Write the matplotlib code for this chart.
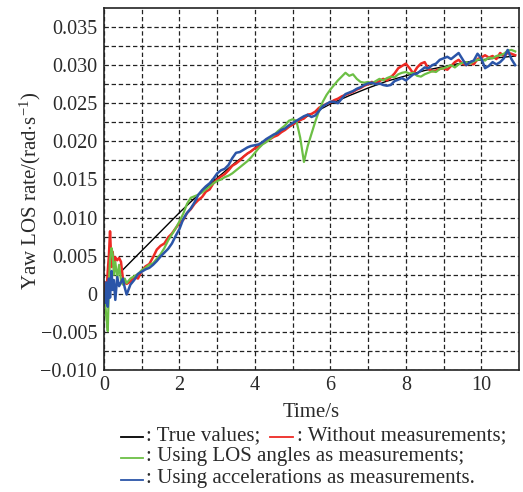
import matplotlib
matplotlib.use('Agg')
import matplotlib.pyplot as plt
from matplotlib.lines import Line2D
import numpy as np

plt.rcParams['font.family'] = ['Liberation Serif', 'DejaVu Serif']
plt.rcParams['mathtext.fontset'] = 'custom'
plt.rcParams['mathtext.rm'] = 'Liberation Serif'
plt.rcParams['mathtext.it'] = 'Liberation Serif:italic'

# ---------------- data (values in units of 1e-3 rad/s) ----------------
time = [0.00, 0.03, 0.06, 0.10, 0.13, 0.16, 0.20, 0.23, 0.26, 0.30, 0.35, 0.40, 0.45, 0.50, 0.55, 0.60,
        0.7, 0.8, 0.9, 1.0, 1.1, 1.2, 1.3, 1.4, 1.5, 1.6, 1.7, 1.8, 1.9,
        2.0, 2.1, 2.2, 2.3, 2.4, 2.5, 2.6, 2.7, 2.8, 2.9,
        3.0, 3.1, 3.2, 3.3, 3.4, 3.5, 3.6, 3.7, 3.8, 3.9,
        4.0, 4.1, 4.2, 4.3, 4.4, 4.5, 4.6, 4.7, 4.8, 4.9,
        5.0, 5.1, 5.2, 5.3, 5.4, 5.5, 5.6, 5.7, 5.8, 5.9,
        6.0, 6.1, 6.2, 6.3, 6.4, 6.5, 6.6, 6.7, 6.8, 6.9,
        7.0, 7.1, 7.2, 7.3, 7.4, 7.5, 7.6, 7.7, 7.8, 7.9,
        8.0, 8.1, 8.2, 8.3, 8.4, 8.5, 8.6, 8.7, 8.8, 8.9,
        9.0, 9.1, 9.2, 9.3, 9.4, 9.5, 9.6, 9.7, 9.8, 9.9,
        10.0, 10.1, 10.2, 10.3, 10.4, 10.5, 10.6, 10.7, 10.8, 10.9]

true_time = [0.45, 1.0, 1.5, 2.0, 2.5, 3.0, 3.5, 4.0, 4.5, 5.0, 5.5, 6.0, 6.5,
             7.0, 7.5, 8.0, 8.5, 9.0, 9.5, 10.0, 10.5, 10.9]
true_vals = [2.9, 5.65, 8.15, 10.65, 13.0, 15.2, 17.3, 19.1, 20.7, 22.2, 23.6, 24.9, 26.0,
             27.0, 27.9, 28.6, 29.3, 29.8, 30.3, 30.7, 31.0, 31.2]

without_meas = [0.0, 1.5, -0.5, 3.0, 5.0, 8.2, 3.5, 5.5, 3.8, 4.8, 4.4, 4.7, 4.2, 2.0, 1.5, 1.3,
                1.6, 2.2, 2.0, 3.0, 3.6, 3.9, 4.8, 5.8, 6.3, 6.6, 7.4, 7.9, 8.6,
                9.3, 9.7, 10.6, 11.1, 11.8, 12.3, 12.7, 13.4, 13.7, 14.5,
                15.0, 15.4, 15.7, 16.2, 16.8, 17.1, 17.5, 18.0, 18.4, 18.7,
                19.1, 19.3, 19.7, 20.0, 20.3, 20.6, 20.8, 21.2, 21.5, 21.9,
                22.2, 22.5, 22.8, 23.0, 23.5, 23.6, 23.9, 24.4, 24.7, 24.9,
                25.1, 25.4, 25.6, 25.9, 26.1, 26.3, 26.5, 26.8, 27.0, 27.3,
                27.5, 27.8, 27.6, 27.9, 28.2, 28.0, 28.4, 28.9, 29.6, 29.9,
                30.2, 29.6, 28.9, 29.7, 30.2, 30.4, 29.5, 29.2, 29.3, 29.5,
                29.6, 29.4, 29.9, 30.4, 30.7, 30.2, 30.0, 30.3, 30.1, 30.8,
                31.0, 31.3, 31.0, 31.2, 30.8, 31.6, 31.2, 31.6, 31.5, 31.3]

los_angles = [0.0, -1.0, -3.0, -4.9, 1.0, 4.5, 6.0, 5.2, 2.5, 4.2, 2.0, 3.8, 1.8, 1.2, 2.0, 1.4,
              2.0, 2.3, 2.6, 3.1, 3.4, 3.8, 4.0, 4.6, 5.2, 6.0, 7.0, 7.8, 8.6,
              9.5, 10.5, 11.8, 12.6, 12.8, 13.0, 13.3, 13.7, 14.1, 14.5,
              14.8, 15.0, 15.3, 15.5, 15.8, 16.2, 16.6, 17.0, 17.4, 17.9,
              18.5, 19.1, 19.6, 19.9, 20.3, 20.8, 21.3, 21.7, 22.1, 22.7,
              22.9, 22.7, 20.5, 17.3, 19.4, 21.0, 22.6, 24.0, 25.2, 26.1,
              26.8, 27.4, 28.0, 28.5, 29.0, 28.6, 28.8, 28.2, 27.8, 27.7,
              27.8, 27.6, 27.9, 28.2, 28.0, 28.3, 28.5, 28.4, 28.8, 29.0,
              29.1, 28.9, 29.0, 28.6, 28.5, 28.8, 29.0, 29.2, 29.1, 29.5,
              29.6, 29.8, 30.0, 29.7, 30.1, 30.3, 30.4, 30.2, 30.5, 30.7,
              30.8, 30.6, 31.0, 30.9, 31.2, 31.3, 31.5, 31.9, 32.0, 31.8]

accelerations = [0.0, -1.2, 1.5, -1.7, 2.0, -0.5, 3.0, 0.5, 1.8, -0.8, 2.2, 1.0, 1.5, 2.0, 0.8, -0.1,
                 1.2, 1.8, 2.6, 2.9, 3.2, 3.4, 3.8, 4.3, 4.9, 5.4, 5.9, 6.6, 7.6,
                 8.5, 9.8, 10.6, 11.2, 12.0, 13.0, 13.6, 14.1, 14.5, 15.1,
                 15.8, 16.2, 16.4, 16.9, 17.8, 18.5, 18.6, 18.9, 19.2, 19.4,
                 19.5, 19.6, 19.9, 20.3, 20.6, 20.9, 21.1, 21.5, 21.7, 22.1,
                 22.4, 22.7, 23.0, 23.3, 23.5, 23.2, 23.4, 24.0, 24.6, 24.9,
                 25.2, 25.2, 25.0, 25.6, 26.2, 26.4, 26.6, 26.9, 27.1, 27.4,
                 27.6, 27.7, 27.5, 27.6, 27.4, 27.3, 27.4, 27.9, 28.1, 28.3,
                 28.0, 28.4, 28.8, 28.9, 29.3, 29.7, 29.6, 30.0, 30.2, 30.7,
                 30.9, 31.1, 30.8, 31.2, 31.6, 30.8, 30.0, 30.4, 30.6, 31.5,
                 30.9, 29.6, 29.9, 30.4, 30.1, 30.4, 30.9, 32.0, 30.8, 30.0]

x_ticks = [0, 2, 4, 6, 8, 10]
x_ticklabels = ['0', '2', '4', '6', '8', '10']
y_ticks = [-0.010, -0.005, 0.0, 0.005, 0.010, 0.015, 0.020, 0.025, 0.030, 0.035]
y_ticklabels = ['\u22120.010', '\u22120.005', '0', '0.005', '0.010', '0.015',
                '0.020', '0.025', '0.030', '0.035']

scale = 1e-3

# ---------------- figure ----------------
W, H = 523, 492
fig = plt.figure(figsize=(W / 100, H / 100), dpi=100)
ax = fig.add_axes([104 / W, 1 - 370 / H, 415 / W, 362 / H])

c_black = '#000000'
c_red = '#ee2a24'
c_green = '#6cbf45'
c_blue = '#2b55a8'
c_text = '#2a2a2a'

ax.plot(true_time, np.array(true_vals) * scale, color=c_black, lw=1.0, zorder=3)
ax.plot(time, np.array(without_meas) * scale, color=c_red, lw=1.8, zorder=4)
ax.plot(time, np.array(los_angles) * scale, color=c_green, lw=1.6, zorder=5)
ax.plot(time, np.array(accelerations) * scale, color=c_blue, lw=1.8, zorder=6)

ax.set_xlim(0, 11)
ax.set_ylim(-0.010, 0.0375)
ax.set_xticks(x_ticks)
ax.set_xticklabels(x_ticklabels)
ax.set_xticks(np.arange(0, 11, 1), minor=True)
ax.set_yticks(y_ticks)
ax.set_yticklabels(y_ticklabels)
ax.set_yticks(np.arange(-0.0075, 0.0375, 0.005), minor=True)
ax.tick_params(which='both', length=0, labelsize=14.5, colors=c_text)
ax.tick_params(axis='y', pad=5)
ax.tick_params(axis='x', pad=4)
ax.grid(which='both', color='#222222', linestyle=(0, (3.5, 2.2)), linewidth=0.9, zorder=1)
for s in ax.spines.values():
    s.set_linewidth(1.2)
    s.set_color('#222222')
    s.set_zorder(7)

ax.set_xlabel('Time/s', fontsize=15, labelpad=6, color=c_text)
ax.set_ylabel('Yaw LOS rate/(rad$\\cdot$s$^{\\mathregular{-1}}$)', fontsize=15, color=c_text)
ax.yaxis.set_label_coords(-0.147, 0.494)

# ---------------- legend (manual, below the plot) ----------------
def leg_line(x0, x1, y, color):
    fig.add_artist(Line2D([x0 / W, x1 / W], [1 - y / H, 1 - y / H], color=color, lw=1.3))

def leg_text(x, y, s):
    fig.text(x / W, 1 - y / H, s, fontsize=15, va='center', ha='left', color=c_text)

leg_line(121, 143, 437, c_black)
leg_text(146, 436, ': True values;')
leg_line(270, 293, 437, c_red)
leg_text(297, 436, ': Without measurements;')
leg_line(121, 143, 458, c_green)
leg_text(146, 457, ': Using LOS angles as measurements;')
leg_line(121, 143, 480, c_blue)
leg_text(146, 479, ': Using accelerations as measurements.')

fig.savefig('out.png', dpi=100)
